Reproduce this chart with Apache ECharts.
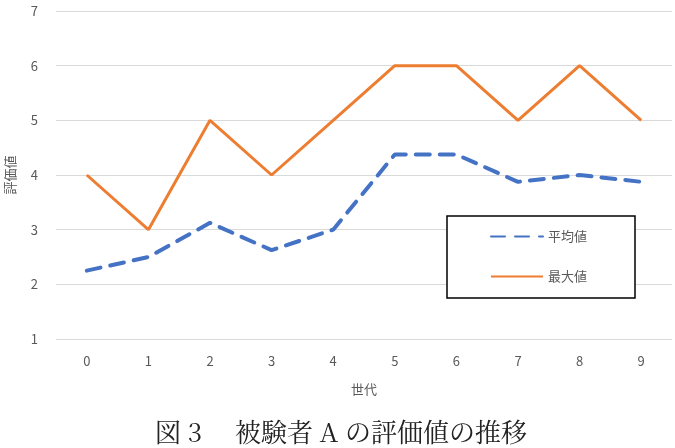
<!DOCTYPE html>
<html>
<head>
<meta charset="utf-8">
<script src="https://cdn.jsdelivr.net/npm/echarts@6/dist/echarts.min.js"></script>
<style>
html,body{margin:0;padding:0;background:#fff;}
#main{width:675px;height:448px;}
</style>
</head>
<body>
<div id="main"></div>
<script>
var generations = ['0','1','2','3','4','5','6','7','8','9'];
var avgValues = [2.25, 2.5, 3.125, 2.625, 3.0, 4.375, 4.375, 3.875, 4.0, 3.875];
var maxValues = [4, 3, 5, 4, 5, 6, 6, 5, 6, 5];
var yTicks = {min: 1, max: 7, step: 1};

var myChart = echarts.init(document.getElementById('main'));
var labelFont = '"Noto Sans CJK JP", "Noto Sans", sans-serif';

myChart.setOption({
	animation: false,
	backgroundColor: '#fff',
	textStyle: {fontFamily: labelFont},
	grid: {left: 56, right: 3, top: 11, bottom: 109, outerBoundsMode: 'none', containLabel: false},
	legend: {
		orient: 'vertical',
		left: 447,
		top: 216,
		padding: [14, 48, 15, 43],
		itemWidth: 52,
		itemHeight: 14,
		itemGap: 27,
		borderColor: '#000',
		borderWidth: 1.5,
		backgroundColor: '#fff',
		itemStyle: {opacity: 0},
		textStyle: {color: '#595959', fontSize: 13},
		data: ['平均値', '最大値']
	},
	xAxis: {
		type: 'category',
		data: generations,
		boundaryGap: true,
		name: '世代',
		nameLocation: 'middle',
		nameGap: 44,
		nameTextStyle: {color: '#595959', fontSize: 13},
		axisLine: {show: false},
		axisTick: {show: false},
		axisLabel: {color: '#595959', fontSize: 13, margin: 16}
	},
	yAxis: {
		type: 'value',
		min: yTicks.min,
		max: yTicks.max,
		interval: yTicks.step,
		name: '評価値',
		nameLocation: 'middle',
		nameRotate: 90,
		nameGap: 39,
		nameTextStyle: {color: '#595959', fontSize: 13},
		axisLine: {show: false},
		axisTick: {show: false},
		axisLabel: {color: '#595959', fontSize: 13, margin: 18},
		splitLine: {lineStyle: {color: '#d9d9d9', width: 1}}
	},
	series: [
		{
			name: '平均値',
			type: 'line',
			data: avgValues,
			symbol: 'none',
			color: '#4472C4',
			lineStyle: {color: '#4472C4', width: 4, type: [14, 10], cap: 'round'}
		},
		{
			name: '最大値',
			type: 'line',
			data: maxValues,
			symbol: 'none',
			color: '#ED7D31',
			lineStyle: {color: '#ED7D31', width: 3}
		}
	],
	graphic: [{
		type: 'text',
		x: 341,
		y: 432,
		style: {
			text: '図 3　 被験者 A の評価値の推移',
			fontSize: 26,
			fill: '#222',
			align: 'center',
			verticalAlign: 'middle',
			fontFamily: '"Noto Serif CJK JP", "Noto Sans CJK JP", serif'
		}
	}]
});
</script>
</body>
</html>
